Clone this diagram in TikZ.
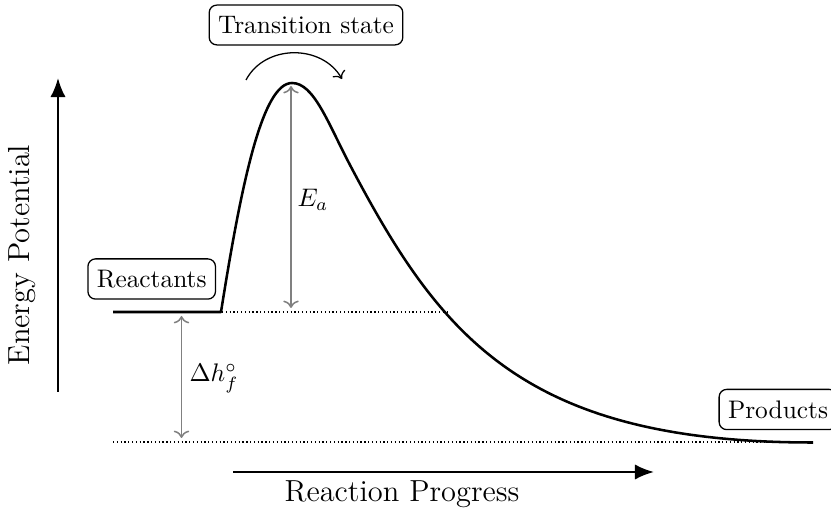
\documentclass[tikz,border=0pt]{standalone}
\usetikzlibrary{arrows.meta}
\begin{document}
\begin{tikzpicture}[x=0.394pt,y=-0.394pt,
  lbl/.style={draw,rounded corners=3pt,inner xsep=3.5pt,inner ysep=4.4pt,line width=0.5pt},
  axis/.style={line width=0.9pt,-{Latex[length=7.5pt,width=6pt]}},
  dim/.style={gray,line width=0.6pt,<->},
  guide/.style={densely dotted,line width=0.5pt}]
\useasboundingbox (0,0) rectangle (831,512);
% axes
\coordinate (yb) at (58,392);
\coordinate (yt) at (58,78);
\coordinate (xl) at (233,472);
\coordinate (xr) at (654,472);
\draw[axis] (yb) -- (yt);
\draw[axis] (xl) -- (xr);
\node[rotate=90,font=\large] (ep) at (22,255) {Energy Potential};
\node[font=\large] (rp) at (402,494) {Reaction Progress};
% guides
\coordinate (g1a) at (222,312);
\coordinate (g1b) at (447,312);
\coordinate (g2a) at (113,442);
\coordinate (g2b) at (813,442);
\draw[guide] (g1a) -- (g1b);
\draw[guide] (g2a) -- (g2b);
% curve
\draw[line width=1pt,line join=round] (113,312) -- (221,312)
  .. controls (241,186) and (262,83) .. (292,83)
  .. controls (314,83) and (328,123.2) .. (350,165)
  .. controls (440,336) and (523,442.5) .. (813,442.5);
% labels
\node[lbl] (ts) at (306,25) {Transition state};
\node[lbl] (re) at (151.7,279) {Reactants};
\node[lbl] (pr) at (778,409.5) {Products};
% dimension arrows
\coordinate (ea1) at (291,86);
\coordinate (ea2) at (291,308);
\draw[dim] (ea1) -- (ea2);
\node[anchor=base west,inner sep=0pt] (ea) at (297,207) {$E_a$};
\coordinate (dh1) at (181.5,316);
\coordinate (dh2) at (181.5,438);
\draw[dim] (dh1) -- (dh2);
\node[anchor=base west,inner sep=0pt] (dh) at (189,382) {$\Delta h^\circ_f$};
% curved arrow
\coordinate (ca1) at (246,80);
\coordinate (ca2) at (342,79);
\draw[line width=0.5pt,->] (ca1) .. controls (265,44) and (322,44) .. (ca2);
\end{tikzpicture}
\end{document}
